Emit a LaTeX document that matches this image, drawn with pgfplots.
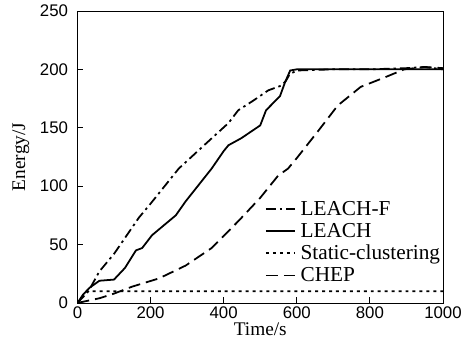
\documentclass[border=0pt]{standalone}
\usepackage{fontspec}
\setmainfont{Liberation Serif}
\newfontfamily\ticksf{Liberation Sans}
\usepackage{pgfplots}
\pgfplotsset{compat=1.18}
\begin{document}
\begin{tikzpicture}
\begin{axis}[
  scale only axis,
  width=368bp, height=294bp,
  xmin=0, xmax=1000, ymin=0, ymax=250,
  xtick={0,200,400,600,800,1000},
  ytick={0,50,100,150,200,250},
  xtick pos=bottom, ytick pos=left,
  tick align=inside,
  major tick length=6bp,
  axis line style={line width=0.8pt},
  tick style={line width=0.8pt, black},
  /pgf/number format/assume math mode=true,
  /pgf/number format/1000 sep={},
  ticklabel style={font=\ticksf\fontsize{17}{17}\selectfont},
  yticklabel style={xshift=-6bp},
  xlabel={Time/s}, ylabel={Energy/J},
  label style={font=\fontsize{19.5}{20}\selectfont},
  xlabel style={at={(axis description cs:0.5,0)}, anchor=center, yshift=-26bp},
  ylabel style={at={(axis description cs:0,0.5)}, anchor=center, yshift=57bp},
  legend style={at={(0.51,0.36)}, anchor=north west, draw=none, fill=none,
    font=\fontsize{21.5}{22}\selectfont, row sep=2.5bp, inner sep=1pt},
  legend cell align=left,
  legend image code/.code={\draw[#1, line width=1.8pt] (0bp,0bp) -- (29bp,0bp); \path (32bp,0bp);},
  every axis plot/.append style={line width=1.8pt, black},
]
\addplot[dash pattern=on 10bp off 4bp on 2.5bp off 4bp] coordinates {
(0,0)(30,10)(60,27)(100,42)(168,73)(200,85)(277,115)(350,136)(413,154)(440,165)(480,173)(522,182)(557,186)(570,190)(581,196)(600,199)(700,200)(800,200)(900,201)(950,202)(1000,200)};
\addlegendentry{LEACH-F}
\addplot[solid] coordinates {
(0,0)(15,7)(33,13)(60,19)(100,20)(130,30)(160,45)(177,47)(204,58)(269,75)(296,87)(367,115)(400,130)(413,135)(448,141)(500,152)(516,165)(554,177)(568,189)(582,199)(600,200)(1000,200)};
\addlegendentry{LEACH}
\addplot[dash pattern=on 3bp off 4bp] coordinates {
(0,0)(25,10)(1000,10)};
\addlegendentry{Static-clustering}
\addplot[dash pattern=on 12bp off 6bp] coordinates {
(0,0)(30,2)(60,4)(100,8)(150,14)(223,21)(296,32)(367,47)(440,70)(500,90)(549,109)(576,115)(600,124)(658,147)(712,169)(775,185)(840,193)(894,200)(950,202)(1000,201)};
\addlegendentry{CHEP}
\end{axis}
\path (current axis.west) ++(-78bp,0);
\path (current axis.east) ++(19bp,0);
\path (current axis.north) ++(0,11bp);
\path (current axis.south) ++(0,-39bp);
\end{tikzpicture}
\end{document}
